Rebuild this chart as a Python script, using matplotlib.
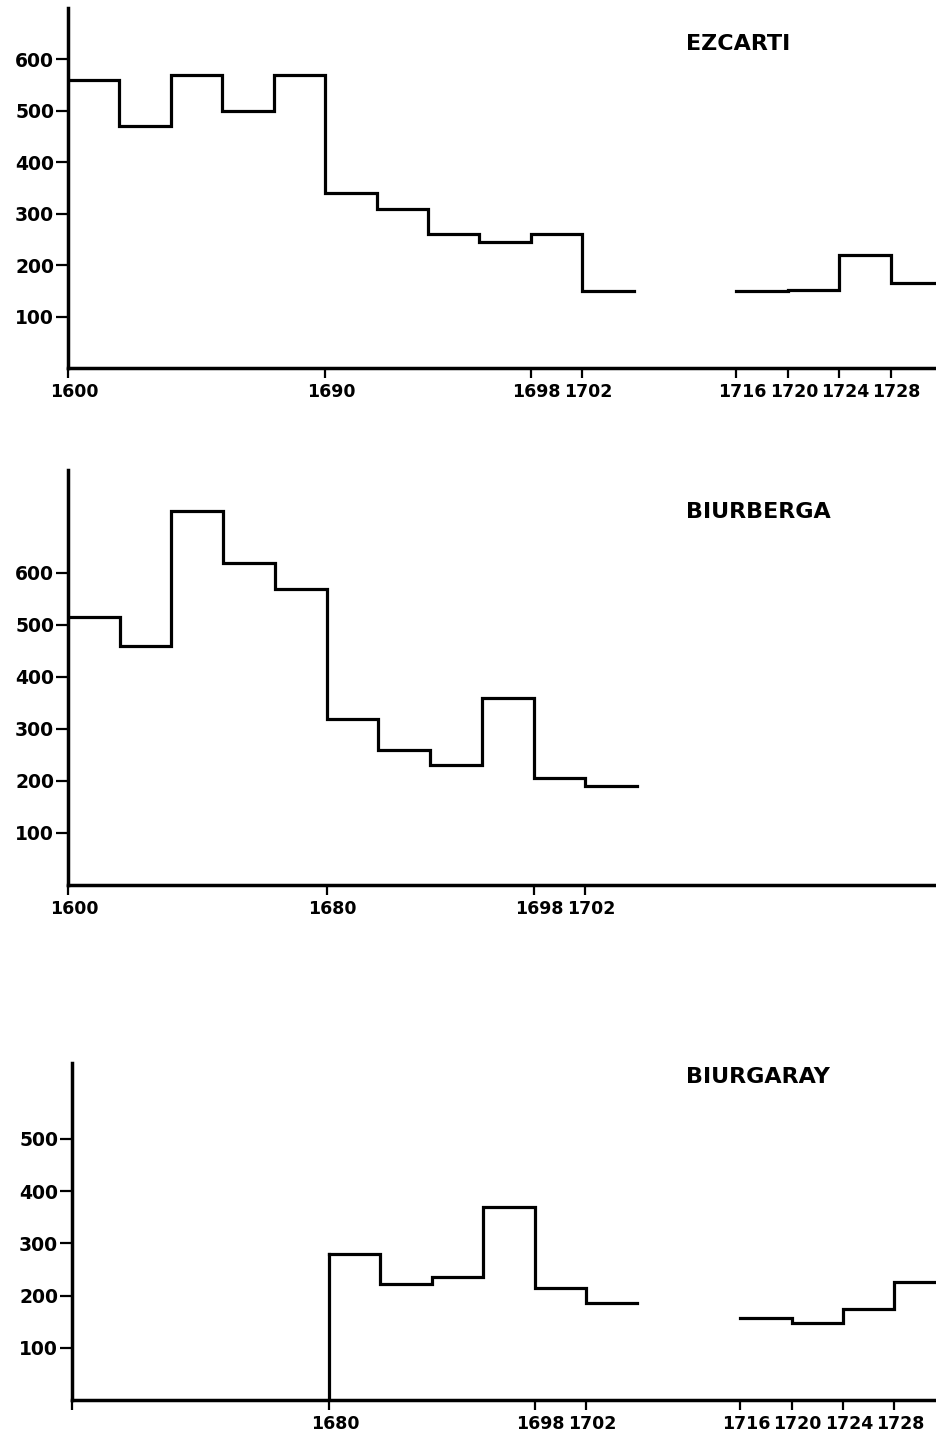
import numpy as np
import matplotlib
matplotlib.use("Agg")
import matplotlib.pyplot as plt
from matplotlib.transforms import ScaledTranslation

nan = np.nan

# ---- data -------------------------------------------------------------
# Periods are drawn on an equal-width index scale (as in the original chart)
titles = ["EZCARTI", "BIURBERGA", "BIURGARAY"]

ezcarti = [560, 470, 570, 500, 570, 340, 310, 260, 245, 260, 150,
           nan, nan, 150, 152, 220, 165]
biurberga = [515, 460, 720, 620, 570, 320, 260, 230, 360, 205, 190,
             nan, nan, nan, nan, nan, nan]
biurgaray = [nan, nan, nan, nan, nan, 280, 222, 235, 370, 215, 185,
             nan, nan, 157, 148, 175, 225]

tick_pos_1 = [0, 5, 9, 10, 13, 14, 15, 16]
tick_lab_1 = ["1600", "1690", "1698", "1702", "1716", "1720", "1724", "1728"]
tick_pos_2 = [0, 5, 9, 10]
tick_lab_2 = ["1600", "1680", "1698", "1702"]
tick_pos_3 = [0, 5, 9, 10, 13, 14, 15, 16]
tick_lab_3 = ["", "1680", "1698", "1702", "1716", "1720", "1724", "1728"]

yticks_1 = [100, 200, 300, 400, 500, 600]
yticks_2 = [100, 200, 300, 400, 500, 600]
yticks_3 = [100, 200, 300, 400, 500]

# ---- layout -----------------------------------------------------------
W, H = 937, 1433
fig = plt.figure(figsize=(W / 100, H / 100), dpi=100)
fig.patch.set_facecolor("white")

panels = [
    dict(vals=ezcarti, tp=tick_pos_1, tl=tick_lab_1, yt=yticks_1,
         rect=(68, 8, 937, 368), xmax=16.9, ymax=700, title_y=44, rise=False),
    dict(vals=biurberga, tp=tick_pos_2, tl=tick_lab_2, yt=yticks_2,
         rect=(68, 470, 937, 885), xmax=16.8, ymax=798, title_y=512, rise=False),
    dict(vals=biurgaray, tp=tick_pos_3, tl=tick_lab_3, yt=yticks_3,
         rect=(72, 1063, 937, 1400), xmax=16.83, ymax=645, title_y=1077, rise=True),
]

xfont = dict(family="DejaVu Sans", weight="bold", size=12.5)
yfont = dict(family="DejaVu Sans", weight="bold", size=13.5)

for p, title in zip(panels, titles):
    x0, y0, x1, y1 = p["rect"]
    ax = fig.add_axes([x0 / W, 1 - y1 / H, (x1 - x0) / W, (y1 - y0) / H])
    vals = np.array(p["vals"], dtype=float)
    edges = np.arange(len(vals) + 1)
    yy = np.append(vals, vals[-1])
    ax.step(edges, yy, where="post", color="black", lw=2.3,
            solid_joinstyle="miter", clip_on=True)
    if p["rise"]:
        first = int(np.argmax(~np.isnan(vals)))
        ax.plot([edges[first], edges[first]], [0, vals[first]],
                color="black", lw=2.3)

    ax.set_xlim(0, p["xmax"])
    ax.set_ylim(0, p["ymax"])
    for s in ["top", "right"]:
        ax.spines[s].set_visible(False)
    for s in ["left", "bottom"]:
        ax.spines[s].set_linewidth(2.5)
        ax.spines[s].set_color("black")

    ax.set_xticks(p["tp"])
    ax.set_xticklabels(p["tl"], fontdict=xfont)
    ax.set_yticks(p["yt"])
    ax.set_yticklabels([str(v) for v in p["yt"]], fontdict=yfont)
    ax.tick_params(axis="y", direction="out", length=9, width=1.6, pad=1)
    ax.tick_params(axis="x", direction="out", length=7, width=1.6, pad=3.5)
    off = ScaledTranslation(6 / 100, 0, fig.dpi_scale_trans)
    for lbl in ax.get_xticklabels():
        lbl.set_transform(lbl.get_transform() + off)

    fig.text(686 / W, 1 - p["title_y"] / H, title, ha="left", va="center",
             family="DejaVu Sans", weight="bold", size=16)

fig.savefig("out.png", dpi=100, facecolor="white")
